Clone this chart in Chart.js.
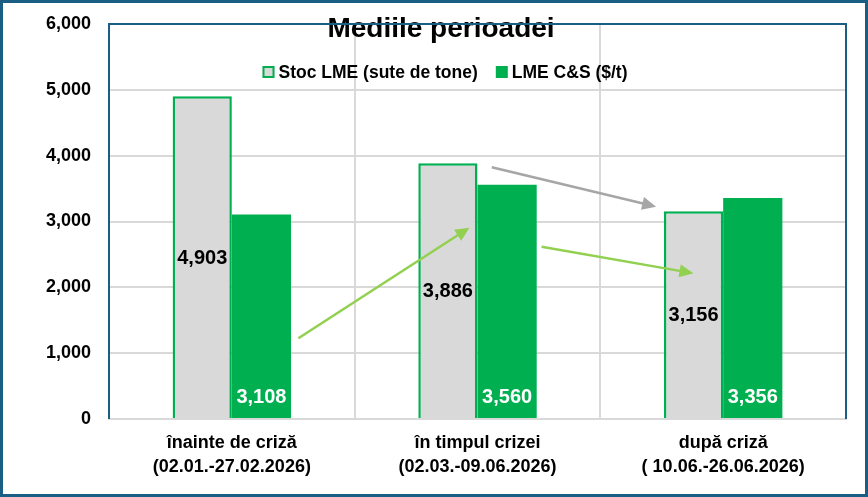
<!DOCTYPE html>
<html>
<head>
<meta charset="utf-8">
<script src="https://cdn.jsdelivr.net/npm/chart.js@4.4.1/dist/chart.umd.min.js"></script>
<style>
    html, body { margin: 0; padding: 0; background: #ffffff; }
    #wrap { width: 868px; height: 497px; position: relative; }
</style>
</head>
<body>
<div id="wrap"><canvas id="chart"></canvas></div>
<script>
// Period averages
const periods = [
    ['înainte de criză', '(02.01.-27.02.2026)'],
    ['în timpul crizei', '(02.03.-09.06.2026)'],
    ['după criză', '( 10.06.-26.06.2026)']
];
const stockLabel = 'Stoc LME (sute de tone)';
const stockValues = [4903, 3886, 3156];
const tcLabel = 'LME C&S ($/t)';
const tcValues = [3108, 3560, 3356];
const yTicks = [0, 1000, 2000, 3000, 4000, 5000, 6000];

// Trend arrows, in axis units (category index, value)
const trendArrows = [
    { from: [1.058, 3823], to: [1.727, 3225], color: '#a6a6a6' },
    { from: [0.271, 1226], to: [0.967, 2906], color: '#92d050' },
    { from: [1.261, 2617], to: [1.879, 2213], color: '#92d050' }
];

const BORDER_BLUE = '#1a5e84';
const GRID_GRAY = '#d9d9d9';
const FONT = "'Liberation Sans', Arial, sans-serif";

const frame = {
    id: 'frame',
    beforeDraw(chart) {
        const ctx = chart.ctx;
        ctx.save();
        ctx.fillStyle = '#ffffff';
        ctx.fillRect(0, 0, chart.width, chart.height);
        ctx.restore();
    },
    beforeDatasetsDraw(chart) {
        const { ctx, chartArea: a } = chart;
        ctx.save();
        ctx.strokeStyle = BORDER_BLUE;
        ctx.lineWidth = 2;
        ctx.beginPath();
        ctx.moveTo(a.left, a.bottom);
        ctx.lineTo(a.left, a.top);
        ctx.lineTo(a.right, a.top);
        ctx.lineTo(a.right, a.bottom);
        ctx.stroke();
        ctx.restore();
    },
    afterDraw(chart) {
        const ctx = chart.ctx;
        ctx.save();
        ctx.strokeStyle = BORDER_BLUE;
        ctx.lineWidth = 3;
        ctx.strokeRect(1.5, 1.5, chart.width - 3, chart.height - 3);
        ctx.restore();
    }
};

// legend drawn inside the plot area, under the title
const innerLegend = {
    id: 'innerLegend',
    afterDraw(chart) {
        const ctx = chart.ctx;
        const sets = chart.data.datasets;
        const box = 12, gap = 4, itemGap = 18;
        ctx.save();
        ctx.font = 'bold 17.5px ' + FONT;
        ctx.textBaseline = 'middle';
        const widths = sets.map(ds => box + gap + ctx.measureText(ds.label).width);
        const total = widths.reduce((a, b) => a + b, 0) + itemGap * (sets.length - 1);
        let x = 445 - total / 2;
        const y = 72;
        sets.forEach((ds, i) => {
            ctx.fillStyle = ds.backgroundColor;
            ctx.fillRect(x, y - box / 2, box, box);
            if (ds.borderWidth) {
                ctx.strokeStyle = ds.borderColor;
                ctx.lineWidth = 2;
                ctx.strokeRect(x + 1, y - box / 2 + 1, box - 2, box - 2);
            }
            ctx.fillStyle = '#000000';
            ctx.fillText(ds.label, x + box + gap, y + 1);
            x += widths[i] + itemGap;
        });
        ctx.restore();
    }
};

const barLabels = {
    id: 'barLabels',
    afterDatasetsDraw(chart) {
        const ctx = chart.ctx;
        const xs = chart.scales.x, ys = chart.scales.y;

        // arrows
        trendArrows.forEach(a => {
            const x1 = xs.getPixelForValue(a.from[0]), y1 = ys.getPixelForValue(a.from[1]);
            const x2 = xs.getPixelForValue(a.to[0]), y2 = ys.getPixelForValue(a.to[1]);
            const ang = Math.atan2(y2 - y1, x2 - x1);
            const head = 14, half = 6.5;
            ctx.save();
            ctx.strokeStyle = a.color;
            ctx.fillStyle = a.color;
            ctx.lineWidth = 2.5;
            ctx.beginPath();
            ctx.moveTo(x1, y1);
            ctx.lineTo(x2 - Math.cos(ang) * head * 0.8, y2 - Math.sin(ang) * head * 0.8);
            ctx.stroke();
            ctx.translate(x2, y2);
            ctx.rotate(ang);
            ctx.beginPath();
            ctx.moveTo(0, 0);
            ctx.lineTo(-head, -half);
            ctx.lineTo(-head, half);
            ctx.closePath();
            ctx.fill();
            ctx.restore();
        });

        ctx.save();
        ctx.font = 'bold 20px ' + FONT;
        ctx.textAlign = 'center';
        ctx.textBaseline = 'middle';
        chart.getDatasetMeta(0).data.forEach((bar, i) => {
            ctx.fillStyle = '#000000';
            ctx.fillText(stockValues[i].toLocaleString('en-US'), bar.x, (bar.y + bar.base) / 2 + 1);
        });
        chart.getDatasetMeta(1).data.forEach((bar, i) => {
            ctx.fillStyle = '#ffffff';
            ctx.fillText(tcValues[i].toLocaleString('en-US'), bar.x, bar.base - 21);
        });
        ctx.restore();
    }
};

new Chart(document.getElementById('chart'), {
    type: 'bar',
    data: {
        labels: periods,
        datasets: [
            {
                label: stockLabel,
                data: stockValues,
                backgroundColor: '#d9d9d9',
                borderColor: '#00b050',
                borderWidth: 2.5,
                categoryPercentage: 0.482,
                barPercentage: 1
            },
            {
                label: tcLabel,
                data: tcValues,
                backgroundColor: '#00b050',
                borderWidth: 0,
                categoryPercentage: 0.482,
                barPercentage: 1
            }
        ]
    },
    options: {
        responsive: true,
        maintainAspectRatio: false,
        animation: false,
        layout: {
            padding: { left: 36, right: 22, top: 0, bottom: 0 }
        },
        scales: {
            x: {
                grid: {
                    color: GRID_GRAY,
                    lineWidth: 2,
                    drawTicks: false,
                    offset: true
                },
                border: { color: GRID_GRAY, width: 2 },
                ticks: {
                    color: '#000000',
                    padding: 12,
                    maxRotation: 0,
                    font: { family: FONT, size: 18, weight: 'bold', lineHeight: 1.35 }
                },
                afterFit(scale) { scale.height = 78; }
            },
            y: {
                min: 0,
                max: 6000,
                afterBuildTicks(scale) { scale.ticks = yTicks.map(v => ({ value: v })); },
                grid: {
                    color: GRID_GRAY,
                    lineWidth: 2,
                    drawTicks: false
                },
                border: { display: false },
                ticks: {
                    color: '#000000',
                    padding: 18,
                    font: { family: FONT, size: 18, weight: 'bold' },
                    callback: v => v.toLocaleString('en-US')
                },
                afterFit(scale) {
                    scale.width = 73;
                    scale.paddingTop = 0;
                    scale.paddingBottom = 0;
                }
            }
        },
        plugins: {
            legend: { display: false },
            tooltip: { enabled: false },
            title: {
                display: true,
                text: 'Mediile perioadei',
                color: '#000000',
                font: { family: FONT, size: 28, weight: 'bold', lineHeight: 1.2 },
                padding: { top: 12.5, bottom: -22.1 }
            }
        }
    },
    plugins: [frame, barLabels, innerLegend]
});
</script>
</body>
</html>
